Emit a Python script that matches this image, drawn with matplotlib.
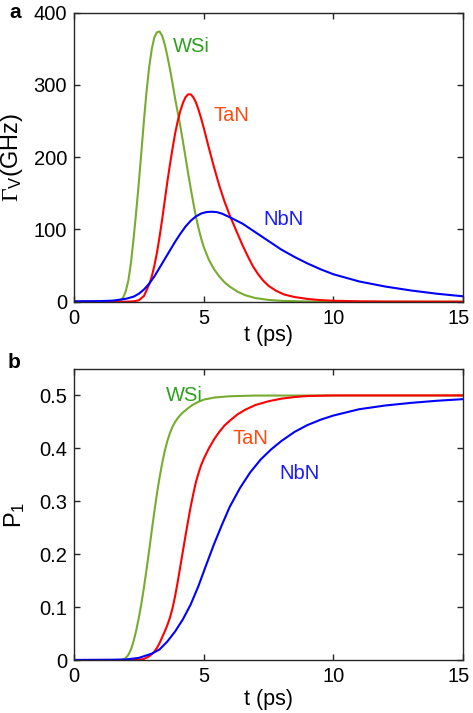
import matplotlib
matplotlib.use("Agg")
import matplotlib.pyplot as plt
from matplotlib.transforms import ScaledTranslation

plt.rcParams['font.family'] = ['Liberation Sans', 'DejaVu Sans']
plt.rcParams['mathtext.fontset'] = 'custom'
plt.rcParams['mathtext.rm'] = 'Liberation Serif'
plt.rcParams['mathtext.sf'] = 'Liberation Sans'
plt.rcParams['mathtext.it'] = 'Liberation Sans:italic'

# ---- panel a: switching rate Gamma_V (GHz) vs t (ps) ----
t_wsi_a = [0, 1.0, 1.5, 1.7, 1.8, 1.9, 2.0, 2.1, 2.2, 2.3, 2.4, 2.5, 2.6, 2.7, 2.8,
           2.9, 3.0, 3.1, 3.2, 3.3, 3.4, 3.5, 3.6, 3.7, 3.8, 3.9, 4.0, 4.1, 4.2,
           4.3, 4.4, 4.5, 4.6, 4.7, 4.8, 4.9, 5.0, 5.2, 5.4, 5.6, 5.8, 6.0, 6.3,
           6.6, 7.0, 7.5, 8.0, 9.0, 10, 15]
g_wsi = [0, 0, 0, 0.5, 2, 6, 15, 30, 55, 88, 125, 165, 208, 252, 292,
         325, 350, 366, 373, 374, 368, 356, 340, 322, 302, 281, 262, 243, 222,
         200, 178, 157, 137, 118, 102, 88, 76, 58, 45, 35, 27, 21, 14,
         9, 5, 2.5, 1.2, 0.3, 0, 0]

t_tan_a = [0, 2.0, 2.3, 2.5, 2.7, 2.9, 3.0, 3.1, 3.2, 3.3, 3.4, 3.5, 3.6, 3.7,
           3.8, 3.9, 4.0, 4.1, 4.2, 4.3, 4.4, 4.5, 4.6, 4.7, 4.8, 4.9, 5.0, 5.2,
           5.4, 5.6, 5.8, 6.0, 6.2, 6.5, 6.7, 6.9, 7.1, 7.3, 7.5, 7.8, 8.1, 8.5,
           9.0, 9.5, 10, 11, 12, 15]
g_tan = [0, 0, 0.5, 2, 8, 24, 35, 50, 68, 90, 114, 140, 166, 190,
         212, 233, 250, 264, 275, 283, 287, 287, 283, 276, 266, 254, 241, 213,
         186, 161, 139, 120, 103, 78, 63, 49, 38, 29, 22, 15, 10, 6.5,
         3.8, 2.2, 1.3, 0.5, 0.2, 0]

t_nbn_a = [0, 1.0, 1.5, 2.0, 2.3, 2.5, 2.7, 2.9, 3.1, 3.3, 3.5, 3.7, 3.9, 4.1,
           4.3, 4.5, 4.7, 4.9, 5.1, 5.3, 5.5, 5.7, 6.0, 6.5, 7.0, 7.5, 8.0, 8.5,
           9.0, 9.5, 10, 11, 12, 13, 14, 15]
g_nbn = [0.5, 0.8, 1.5, 4, 7, 11, 17, 25, 35, 47, 59, 71, 83, 94,
         104, 112, 118, 122, 124, 124.5, 124, 122, 117, 108, 96, 84, 72, 62,
         53, 45, 38, 28, 21, 15.5, 11, 7.5]

# ---- panel b: occupation P1 vs t (ps) ----
t_wsi_b = [0, 1.8, 1.9, 2.0, 2.1, 2.2, 2.3, 2.4, 2.5, 2.6, 2.7, 2.8, 2.9, 3.0,
           3.1, 3.2, 3.3, 3.4, 3.5, 3.6, 3.7, 3.8, 3.9, 4.0, 4.1, 4.2, 4.4, 4.6,
           4.8, 5.0, 5.4, 6.0, 7.0, 15]
p_wsi = [0, 0, 0.001, 0.004, 0.01, 0.02, 0.036, 0.056, 0.08, 0.107, 0.138, 0.172, 0.208, 0.245,
         0.281, 0.315, 0.345, 0.372, 0.395, 0.414, 0.429, 0.441, 0.450, 0.457, 0.463, 0.468, 0.476, 0.483,
         0.488, 0.492, 0.496, 0.4985, 0.4998, 0.5]

t_tan_b = [0, 2.3, 2.5, 2.7, 2.9, 3.0, 3.1, 3.2, 3.3, 3.4, 3.5, 3.6, 3.7, 3.8,
           3.9, 4.0, 4.1, 4.2, 4.3, 4.4, 4.5, 4.6, 4.7, 4.8, 4.9, 5.0, 5.2, 5.4,
           5.6, 5.8, 6.0, 6.3, 6.6, 7.0, 7.5, 8.0, 8.5, 9.0, 10, 15]
p_tan = [0, 0, 0.0005, 0.002, 0.007, 0.011, 0.016, 0.023, 0.032, 0.043, 0.054, 0.066, 0.08, 0.098,
         0.121, 0.148, 0.177, 0.206, 0.235, 0.263, 0.29, 0.314, 0.336, 0.353, 0.368, 0.38, 0.4, 0.417,
         0.431, 0.443, 0.452, 0.464, 0.473, 0.482, 0.489, 0.494, 0.497, 0.499, 0.5, 0.5]

t_nbn_b = [0, 1.5, 2.0, 2.5, 3.0, 3.3, 3.6, 3.9, 4.2, 4.5, 4.8, 5.1, 5.4, 5.7,
           6.0, 6.4, 6.8, 7.2, 7.6, 8.0, 8.5, 9.0, 9.5, 10, 11, 12, 13, 14, 15]
p_nbn = [0, 0.0005, 0.001, 0.004, 0.012, 0.02, 0.035, 0.054, 0.077, 0.105, 0.14, 0.18, 0.219, 0.255,
         0.289, 0.325, 0.355, 0.379, 0.398, 0.414, 0.431, 0.444, 0.454, 0.462, 0.474, 0.481, 0.486, 0.49, 0.493]

c_wsi, c_tan, c_nbn = '#77ac30', '#ff0000', '#0000ff'
txt_wsi, txt_tan, txt_nbn = '#2ca01c', '#ff4a10', '#1a1aff'

fig = plt.figure(figsize=(4.73, 7.13), dpi=100)
W, H = 473, 713
ax_a = fig.add_axes([74 / W, 1 - 301.7 / H, 389 / W, 289 / H])
ax_b = fig.add_axes([74 / W, 1 - 660 / H, 389 / W, 291 / H])

for ax in (ax_a, ax_b):
    ax.set_xlim(0, 15)
    ax.set_xticks([0, 5, 10, 15])
    ax.tick_params(direction='in', length=4, width=1, top=True, right=True,
                   labelsize=14.5, color='#262626', pad=5)
    for s in ax.spines.values():
        s.set_color('#262626')
        s.set_linewidth(1)
    # keep the "15" inside the figure, as in the reference
    last = ax.get_xticklabels()[-1]
    last.set_transform(last.get_transform() + ScaledTranslation(-4 / 100, 0, fig.dpi_scale_trans))

lw = 1.5
ax_a.plot(t_wsi_a, g_wsi, color=c_wsi, lw=lw)
ax_a.plot(t_tan_a, g_tan, color=c_tan, lw=lw)
ax_a.plot(t_nbn_a, g_nbn, color=c_nbn, lw=lw)
ax_a.set_ylim(0, 400)
ax_a.set_yticks([0, 100, 200, 300, 400])
ax_a.text(4.52, 353, 'WSi', color=txt_wsi, fontsize=14.5, ha='center', va='center')
ax_a.text(6.06, 258, 'TaN', color=txt_tan, fontsize=14.5, ha='center', va='center')
ax_a.text(8.07, 114, 'NbN', color=txt_nbn, fontsize=14.5, ha='center', va='center')
ax_a.set_xlabel('t (ps)', fontsize=15.5, labelpad=-2)
ax_a.set_ylabel(r'$\Gamma_{\mathsf{V}}$(GHz)', fontsize=17)
ax_a.yaxis.set_label_coords(-0.125, 0.5)

ax_b.plot(t_wsi_b, p_wsi, color=c_wsi, lw=lw)
ax_b.plot(t_tan_b, p_tan, color=c_tan, lw=lw)
ax_b.plot(t_nbn_b, p_nbn, color=c_nbn, lw=lw)
ax_b.set_ylim(0, 0.55)
ax_b.set_yticks([0, 0.1, 0.2, 0.3, 0.4, 0.5])
ax_b.set_yticklabels(['0', '0.1', '0.2', '0.3', '0.4', '0.5'])
ax_b.text(4.24, 0.499, 'WSi', color=txt_wsi, fontsize=14.5, ha='center', va='center')
ax_b.text(6.79, 0.419, 'TaN', color=txt_tan, fontsize=14.5, ha='center', va='center')
ax_b.text(8.70, 0.353, 'NbN', color=txt_nbn, fontsize=14.5, ha='center', va='center')
ax_b.set_xlabel('t (ps)', fontsize=15.5, labelpad=2)
ax_b.set_ylabel(r'P$_{\mathsf{1}}$', fontsize=17)
ax_b.yaxis.set_label_coords(-0.12, 0.5)

fig.text(9 / W, 1 - 12 / H, 'a', fontsize=15, fontweight='bold', ha='left', va='center')
fig.text(8 / W, 1 - 363 / H, 'b', fontsize=15, fontweight='bold', ha='left', va='center')

fig.savefig('out.png', dpi=100)
